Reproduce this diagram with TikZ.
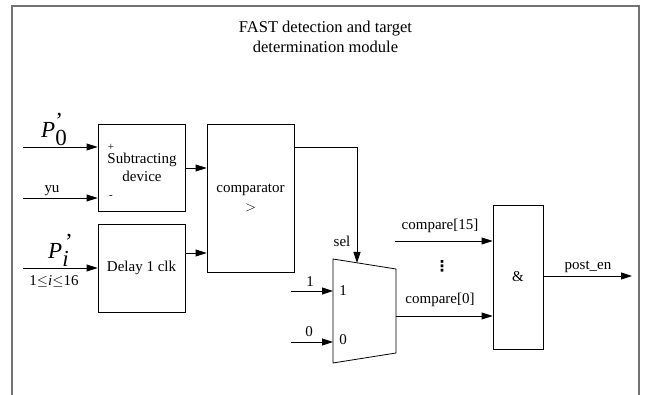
\documentclass[tikz,border=0pt]{standalone}
\usepackage{fontspec}
\setmainfont{Liberation Serif}
\newfontfamily\symfont{DejaVu Sans}
\usetikzlibrary{arrows.meta}
\begin{document}
\begin{tikzpicture}[x=1pt,y=-1pt,
  font=\fontsize{15}{18}\selectfont,
  blk/.style={draw,line width=0.8pt,inner sep=0pt,align=center},
  arr/.style={line width=0.8pt,-{Triangle[length=11pt,width=7pt]}},
  lbl/.style={inner sep=0pt,anchor=base},
  frame/.style={line width=1.6pt,draw=black!55}]
\useasboundingbox (0,0) rectangle (646,395);
% outer frame
\draw[frame] (12,395) -- (12,6) -- (639,6) -- (639,395);
\node[lbl,font=\fontsize{16.5}{20}\selectfont] (title1) at (325.5,33) {FAST detection and target};
\node[lbl,font=\fontsize{16.5}{20}\selectfont] (title2) at (325.5,53) {determination module};
% blocks
\node[blk,minimum width=87pt,minimum height=87pt] (sub) at (141.5,167.5) {};
\node[lbl] (subt1) at (142,164) {Subtracting};
\node[lbl] (subt2) at (142,182) {device};
\node[blk,minimum width=87pt,minimum height=88pt] (delay) at (141.5,268) {Delay 1 clk};
\node[blk,minimum width=87pt,minimum height=148pt] (comp) at (250.5,198) {comparator\\[1pt]$>$};
\node[blk,minimum width=50pt,minimum height=144pt] (and) at (518,277) {\&};
% mux
\coordinate (m1) at (333,259);
\coordinate (m2) at (396,269);
\coordinate (m3) at (396,353);
\coordinate (m4) at (333,363);
\draw[line width=0.8pt] (m1) -- (m2) -- (m3) -- (m4) -- cycle;
\node[lbl] (mux1) at (343,296) {1};
\node[lbl] (mux0) at (343,345) {0};
% input coordinates
\coordinate (inP0) at (23,147);
\coordinate (inyu) at (23,198);
\coordinate (inPi) at (23,268);
\coordinate (in1) at (291,291);
\coordinate (in0) at (291,342);
\coordinate (in15) at (395,241);
\coordinate (selc) at (357,147);
\coordinate (selt) at (357,263);
\coordinate (outc) at (632,276);
% input labels
\node[lbl,anchor=base west] (lP0) at (41,138) {\fontsize{23}{23}\selectfont$\textit{P}_{\textup{0}}^{\textup{'}}$};
\node[lbl] (lyu) at (52,193) {yu};
\node[lbl,anchor=base west] (lPi) at (48,259) {\fontsize{23}{23}\selectfont$\textit{P}_{\textit{i}}^{\,\textup{'}}$};
\node[lbl] (lrange) at (54,286) {1$\leq$\textit{i}$\leq$16};
\node[inner sep=0pt] (plus) at (111,147) {\fontsize{11}{11}\selectfont +};
\node[inner sep=0pt] (minus) at (111,197) {\fontsize{11}{11}\selectfont -};
% wires
\draw[arr] (inP0) -- (sub.west |- inP0);
\draw[arr] (inyu) -- (sub.west |- inyu);
\draw[arr] (inPi) -- (delay.west |- inPi);
\draw[arr] (sub.east |- 0,168) -- (comp.west |- 0,168);
\draw[arr] (delay.east |- 0,253) -- (comp.west |- 0,253);
\draw[arr] (comp.east |- selc) -- (selc) -- (selt);
\node[lbl] (lsel) at (342,247) {sel};
\draw[arr] (in1) -- (m1 |- in1);
\draw[arr] (in0) -- (m1 |- in0);
\node[lbl] (l1) at (310,287) {1};
\node[lbl] (l0) at (309,337) {0};
\draw[arr] (m2 |- 0,316) -- (and.west |- 0,316);
\draw[arr] (in15) -- (and.west |- in15);
\node[lbl] (lc0) at (440,304) {compare[0]};
\node[lbl] (lc15) at (440,230) {compare[15]};
\node[inner sep=0pt,font=\fontsize{15}{15}\selectfont\symfont\bfseries] (dots) at (442,266) {⋮};
\draw[arr] (and.east |- outc) -- (outc);
\node[lbl] (lpost) at (588,270) {post\_en};
\end{tikzpicture}
\end{document}
